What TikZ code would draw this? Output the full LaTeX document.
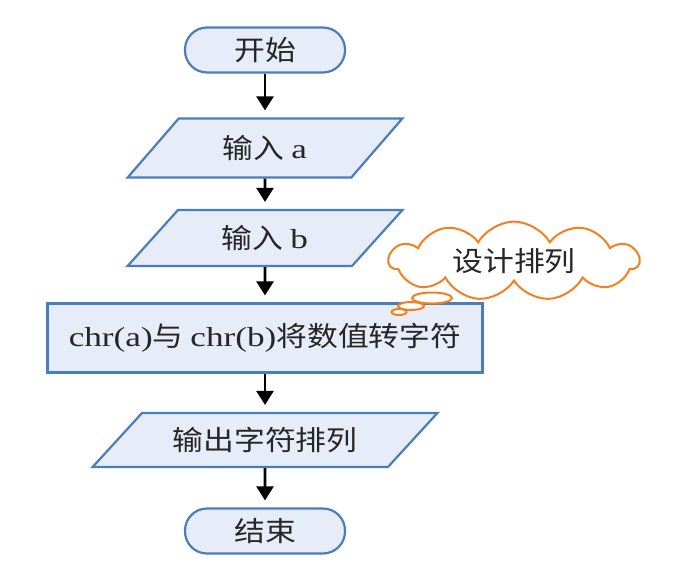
\documentclass[tikz,border=0pt]{standalone}
\usepackage{fontspec}
\setmainfont{Liberation Serif}[FakeStretch=1.28]
\newfontfamily\cjk{Noto Sans CJK SC}[FakeStretch=1.12]
\usepackage{tikz}
\usetikzlibrary{positioning, arrows.meta, shapes.geometric, shapes.symbols}
\definecolor{boxfill}{HTML}{E6EDF8}
\definecolor{boxline}{HTML}{4A7EBB}
\definecolor{note}{HTML}{F57F20}

\begin{document}
\begin{tikzpicture}[x=1pt, y=-1pt,
      every node/.style={font=\cjk\fontsize{27.5}{31}\selectfont, text=black!85},
      term/.style={draw=boxline, fill=boxfill, line width=2.2pt,
        rounded corners=22pt, minimum width=160pt, minimum height=45pt},
      io/.style={trapezium, trapezium stretches=true, draw=boxline,
        fill=boxfill, line width=2.2pt},
      proc/.style={draw=boxline, fill=boxfill, line width=2.2pt,
        minimum width=435pt, minimum height=69pt},
      flow/.style={-{Triangle[length=14pt, width=17pt]}, line width=2.6pt,
        shorten >=7pt}]

    \useasboundingbox (0,0) rectangle (677,579);

    \node[term] (start) at (265, 50) {开始};
    \node[io, trapezium left angle=50, trapezium right angle=130,
      minimum width=275pt, minimum height=59pt] (inA) at (265, 148)
      {输入 \rmfamily a};
    \node[io, trapezium left angle=50, trapezium right angle=130,
      minimum width=275pt, minimum height=56pt] (inB) at (265, 238)
      {输入 \rmfamily b};
    \node[proc] (conv) at (265, 338)
      {\rmfamily chr(a)\cjk 与 \rmfamily chr(b)\cjk 将数值转字符};
    \node[io, trapezium left angle=40, trapezium right angle=140,
      minimum width=345pt, minimum height=54pt] (out) at (265, 440)
      {输出字符排列};
    \node[term] (stop) at (265, 531) {结束};

    \draw[flow] (start) -- (inA);
    \draw[flow] (inA) -- (inB);
    \draw[flow] (inB) -- (conv);
    \draw[flow] (conv) -- (out);
    \draw[flow] (out) -- (stop);

    % thought cloud
    \node[cloud, cloud puffs=11, cloud puff arc=120, aspect=3.6,
      draw=note, fill=white, line width=2pt,
      minimum width=250pt, minimum height=64pt] (note) at (514, 261) {设计排列};
    \draw[note, fill=white, line width=2pt] (432, 298) ellipse (20pt and 5.5pt);
    \draw[note, fill=white, line width=2pt] (411, 306) ellipse (13pt and 4pt);
    \draw[note, fill=white, line width=2pt] (399, 312) ellipse (7.5pt and 3pt);
  \end{tikzpicture}
\end{document}
